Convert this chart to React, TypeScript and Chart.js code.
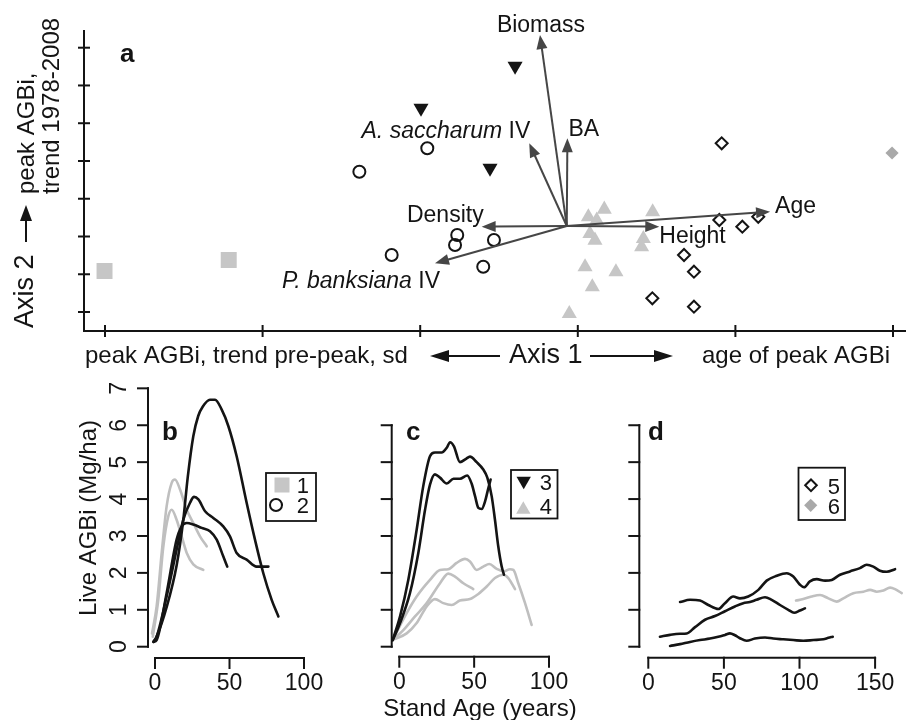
import React, { useEffect, useRef } from "react";
import { Chart, registerables } from "chart.js";

Chart.register(...registerables);

const FONT = '"Liberation Sans", Arial, Helvetica, sans-serif';
const W = 906;
const H = 720;

// ---------- Panel a: ordination scores ----------
const axis1Ticks = [-3, -2, -1, 0, 1, 2];
const axis2Ticks = [-2, -1, 0, 1, 2, 3, 4, 5];

const type1X = [-3.003, -2.215];
const type1Y = [-0.914, -0.622];
const type2X = [-0.955, -1.386, -0.765, -0.779, -0.532, -1.181, -0.6];
const type2Y = [2.336, 1.716, 0.04, -0.225, -0.093, -0.49, -0.8];
const type3X = [-0.995, -0.398, -0.557];
const type3Y = [3.403, 4.515, 1.814];
const type4X = [0.067, 0.168, 0.12, 0.077, 0.109, 0.475, 0.416, 0.405, 0.046, 0.242, 0.092, -0.054];
const type4Y = [0.516, 0.72, 0.429, 0.074, -0.101, 0.649, -0.058, -0.278, -0.808, -0.94, -1.337, -2.044];
const type5X = [0.913, 0.898, 1.044, 1.145, 0.674, 0.737, 0.473, 0.737];
const type5Y = [2.468, 0.437, 0.26, 0.524, -0.49, -0.932, -1.637, -1.859];
const type6X = [1.994];
const type6Y = [2.211];

const vectorNames = ["Biomass", "BA", "A. saccharum IV", "Density", "P. banksiana IV", "Height", "Age"];
const vectorX = [-0.24, -0.066, -0.308, -0.61, -0.906, 0.517, 1.22];
const vectorY = [5.336, 2.601, 2.468, 0.26, -0.71, 0.26, 0.657];
const vectorOriginX = -0.07;
const vectorOriginY = 0.278;

// ---------- Panels b-d: live AGBi vs stand age ----------
const bcAgeTicks = [0, 50, 100];
const dAgeTicks = [0, 50, 100, 150];
const bAgbiTicks = [0, 1, 2, 3, 4, 5, 6, 7];
const cdAgbiTicks = [0, 1, 2, 3, 4, 5, 6];

// panel b, type 2 (black)
const b2aAge = [-1, 1, 8, 14.5, 19, 22, 25.7, 29, 32, 36.9, 40.3, 44.7, 49.2, 54.8, 61.5, 67.1, 72.7, 78.3, 82.8];
const b2aVal = [0.14, 0.27, 1.1, 2.2, 3.44, 4.6, 5.7, 6.25, 6.5, 6.69, 6.69, 6.43, 5.98, 5.16, 3.9, 2.9, 1.99, 1.27, 0.82];
const b2bAge = [-1, 0.5, 7.8, 14.5, 19, 23.5, 26.2, 29.1, 33.6, 39.1, 45.8, 50.3, 54.8, 61.5, 68.2, 76.1];
const b2bVal = [0.13, 0.2, 1.36, 2.63, 3.44, 3.9, 4.06, 3.99, 3.67, 3.49, 3.26, 2.99, 2.54, 2.36, 2.17, 2.17];
const b2cAge = [-1, 1.1, 7.8, 14.5, 17.9, 21.3, 25.7, 31.3, 36.9, 41.4, 45.8, 48.5];
const b2cVal = [0.13, 0.18, 1.45, 2.9, 3.26, 3.35, 3.31, 3.22, 3.13, 2.9, 2.45, 2.17];
// panel b, type 1 (grey)
const b1aAge = [-2, 1.1, 4.5, 7.8, 11.2, 13.4, 16.8, 21.3, 25.7, 30.2, 34.7];
const b1aVal = [0.36, 1.09, 2.54, 3.8, 4.44, 4.53, 4.26, 3.71, 3.35, 2.99, 2.72];
const b1bAge = [-1.5, 2.2, 5.6, 8.9, 11.2, 14.5, 17.9, 21.3, 25.7, 32.4];
const b1bVal = [0.27, 1.27, 2.72, 3.53, 3.71, 3.44, 2.99, 2.54, 2.23, 2.08];

// panel c, type 3 (black)
const c3aAge = [-4.4, 0.5, 6, 11.6, 16, 20.5, 23.8, 28.3, 31.7, 33.9, 36.5, 40.5, 44.6, 47.2, 51.7, 56.1, 58.8, 61.7, 63.9, 66.1, 68.4, 69.9];
const c3aVal = [0.18, 0.82, 1.81, 3.17, 4.35, 5.16, 5.26, 5.26, 5.39, 5.54, 5.43, 5.0, 5.09, 5.15, 5.0, 4.8, 4.58, 4.08, 3.44, 2.72, 2.17, 1.95];
const c3bAge = [-4.4, 0.5, 7.1, 12.7, 17.2, 20.5, 23.8, 27.2, 31.7, 36.2, 40.5, 45.4, 48.3, 50.6, 52.8, 55, 57.3, 59.5, 61];
const c3bVal = [0.18, 0.64, 1.45, 2.54, 3.71, 4.39, 4.67, 4.58, 4.42, 4.55, 4.55, 4.64, 4.42, 4.08, 3.76, 3.73, 3.94, 4.3, 4.53];
// panel c, type 4 (grey)
const c4aAge = [-4.4, 4.9, 11.6, 20.5, 27.2, 32.7, 38.3, 43.9, 47.2, 51.7, 56.1, 60.1, 65.1, 69.5, 73.9, 76.2, 79.5, 84, 88.4];
const c4aVal = [0.18, 0.91, 1.36, 1.81, 2.08, 2.1, 2.27, 2.38, 2.31, 2.08, 2.17, 2.24, 2.11, 2.04, 2.1, 2.08, 1.72, 1.18, 0.59];
const c4bAge = [-4.4, 2.7, 10.5, 18.3, 27.2, 32.7, 37.2, 42.8, 49.4];
const c4bVal = [0.18, 0.45, 0.82, 1.18, 1.72, 1.98, 1.9, 1.72, 1.56];
const c4cAge = [-4.4, 4.9, 11.6, 18.3, 23.8, 29.4, 35, 40.5, 47.2, 52.8, 58.4, 63.9, 69.5, 72.8, 77.3];
const c4cVal = [0.18, 0.36, 0.64, 1.09, 1.29, 1.18, 1.13, 1.25, 1.29, 1.43, 1.63, 1.86, 1.95, 1.86, 1.56];

// panel d, type 5 (black)
const d5aAge = [21, 27.6, 34.2, 39.7, 46.3, 50.7, 56.2, 60.6, 66.1, 72.8, 78.3, 84.9, 91.5, 95.9, 100.3, 103, 106.9, 111.4, 116.9, 121.3, 126.8, 133.4, 140, 144.4, 148.8, 153.2, 157.7, 163.2];
const d5aVal = [1.21, 1.27, 1.25, 1.13, 1.02, 1.18, 1.36, 1.31, 1.36, 1.54, 1.79, 1.92, 1.99, 1.9, 1.68, 1.61, 1.77, 1.83, 1.79, 1.81, 1.95, 2.04, 2.13, 2.22, 2.17, 2.06, 2.03, 2.1];
const d5bAge = [7.7, 14.4, 21, 25.4, 30.9, 37.5, 44.1, 50.7, 57.3, 62.8, 67.2, 71.6, 77.2, 81.6, 87.1, 92.6, 96.4, 100.3, 103.6];
const d5bVal = [0.27, 0.32, 0.35, 0.36, 0.53, 0.73, 0.83, 0.96, 1.09, 1.18, 1.21, 1.27, 1.34, 1.27, 1.13, 1.0, 0.92, 0.98, 1.04];
const d5cAge = [14.4, 21, 27.6, 34.2, 40.8, 46.3, 50.7, 54, 57.3, 60.6, 65, 70.5, 77.2, 82.7, 89.3, 95.9, 102.5, 109.2, 115.8, 119.1, 122];
const d5cVal = [0.02, 0.07, 0.13, 0.18, 0.22, 0.27, 0.32, 0.36, 0.31, 0.23, 0.16, 0.22, 0.25, 0.22, 0.2, 0.18, 0.16, 0.18, 0.2, 0.24, 0.27];
// panel d, type 6 (grey)
const d6aAge = [97.7, 102.5, 108, 113.6, 119.1, 124.6, 129, 135.6, 142.3, 146.7, 151.1, 155.5, 159.9, 163.2, 167.6];
const d6aVal = [1.25, 1.29, 1.36, 1.4, 1.31, 1.22, 1.31, 1.45, 1.49, 1.54, 1.49, 1.52, 1.6, 1.56, 1.45];

// ---------- styling ----------
const INK = "#141414";
const GREY = "#c6c6c6";
const GREY_LINE = "#bfbfbf";
const GREY_DARK = "#a9a9a9";
const VEC = "#464646";

type Geo = { l: number; r: number; t: number; b: number; x0: number; xu: number; y0: number; yu: number };

const geoA: Geo = { l: 84, r: 906, t: 30, b: 331, x0: 577.8, xu: 157.6, y0: 236.5, yu: 37.76 };
const geoB: Geo = { l: 148, r: 330, t: 380, b: 658, x0: 155, xu: 1.49, y0: 646.7, yu: 36.91 };
const geoC: Geo = { l: 391.7, r: 580, t: 380, b: 656.7, x0: 399.3, xu: 1.497, y0: 646.7, yu: 36.91 };
const geoD: Geo = { l: 639.3, r: 906, t: 380, b: 657.7, x0: 648.3, xu: 1.512, y0: 646.7, yu: 36.91 };

function pts(xs: number[], ys: number[]) {
  return xs.map((x, i) => ({ x, y: ys[i] }));
}

function baseOptions(g: Geo) {
  return {
    responsive: false,
    animation: false,
    events: [],
    devicePixelRatio: 1,
    layout: { autoPadding: false, padding: { left: g.l, top: g.t, right: W - g.r, bottom: H - g.b } },
    plugins: { legend: { display: false }, tooltip: { enabled: false }, title: { display: false } },
    scales: {
      x: { type: "linear", display: false, bounds: "data", min: (g.l - g.x0) / g.xu, max: (g.r - g.x0) / g.xu },
      y: { type: "linear", display: false, bounds: "data", min: (g.y0 - g.b) / g.yu, max: (g.y0 - g.t) / g.yu },
    },
  };
}

function seg(ctx: CanvasRenderingContext2D, x1: number, y1: number, x2: number, y2: number) {
  ctx.beginPath();
  ctx.moveTo(x1, y1);
  ctx.lineTo(x2, y2);
  ctx.stroke();
}

function arrow(ctx: CanvasRenderingContext2D, x1: number, y1: number, x2: number, y2: number, color: string, lw: number, len: number, half: number) {
  const a = Math.atan2(y2 - y1, x2 - x1);
  const bx = x2 - Math.cos(a) * len;
  const by = y2 - Math.sin(a) * len;
  ctx.strokeStyle = color;
  ctx.fillStyle = color;
  ctx.lineWidth = lw;
  seg(ctx, x1, y1, bx + Math.cos(a) * 2, by + Math.sin(a) * 2);
  ctx.beginPath();
  ctx.moveTo(x2, y2);
  ctx.lineTo(bx + Math.sin(a) * half, by - Math.cos(a) * half);
  ctx.lineTo(bx - Math.sin(a) * half, by + Math.cos(a) * half);
  ctx.closePath();
  ctx.fill();
}

function mixedLabel(ctx: CanvasRenderingContext2D, name: string, x: number, y: number, align: "left" | "right" | "center", size: number) {
  const reg = `${size}px ${FONT}`;
  const ital = `italic ${size}px ${FONT}`;
  const m = name.match(/^(.*)( IV)$/);
  ctx.textAlign = "left";
  if (!m) {
    ctx.font = reg;
    const w = ctx.measureText(name).width;
    const sx = align === "left" ? x : align === "right" ? x - w : x - w / 2;
    ctx.fillText(name, sx, y);
    return;
  }
  ctx.font = ital;
  const w1 = ctx.measureText(m[1]).width;
  ctx.font = reg;
  const w2 = ctx.measureText(m[2]).width;
  const total = w1 + w2;
  const sx = align === "left" ? x : align === "right" ? x - total : x - total / 2;
  ctx.font = ital;
  ctx.fillText(m[1], sx, y);
  ctx.font = reg;
  ctx.fillText(m[2], sx + w1, y);
}

function rotText(ctx: CanvasRenderingContext2D, text: string, x: number, y: number, font: string, align: CanvasTextAlign) {
  ctx.save();
  ctx.translate(x, y);
  ctx.rotate(-Math.PI / 2);
  ctx.font = font;
  ctx.textAlign = align;
  ctx.textBaseline = "alphabetic";
  ctx.fillText(text, 0, 0);
  ctx.restore();
}

const panelAPlugin = {
  id: "panelA",
  afterDatasetsDraw(chart: any) {
    const { ctx, chartArea: ca, scales } = chart;
    const xs = scales.x;
    const ys = scales.y;
    ctx.save();
    ctx.lineCap = "butt";
    // L-shaped axes with crossing ticks
    ctx.strokeStyle = INK;
    ctx.lineWidth = 2;
    ctx.beginPath();
    ctx.moveTo(ca.left, ca.top);
    ctx.lineTo(ca.left, ca.bottom);
    ctx.lineTo(ca.right, ca.bottom);
    ctx.stroke();
    axis1Ticks.forEach((v) => {
      const px = xs.getPixelForValue(v);
      seg(ctx, px, ca.bottom - 6, px, ca.bottom + 6);
    });
    axis2Ticks.forEach((v) => {
      const py = ys.getPixelForValue(v);
      seg(ctx, ca.left - 6, py, ca.left + 6, py);
    });

    // vectors
    const ox = xs.getPixelForValue(vectorOriginX);
    const oy = ys.getPixelForValue(vectorOriginY);
    const tips = vectorNames.map((_, i) => [xs.getPixelForValue(vectorX[i]), ys.getPixelForValue(vectorY[i])]);
    tips.forEach(([tx, ty]) => arrow(ctx, ox, oy, tx, ty, VEC, 2, 14, 5.5));

    ctx.fillStyle = INK;
    ctx.textBaseline = "alphabetic";
    const fs = 23;
    mixedLabel(ctx, vectorNames[0], tips[0][0] + 1, tips[0][1] - 3, "center", fs);
    mixedLabel(ctx, vectorNames[1], tips[1][0] + 1, tips[1][1] - 2, "left", fs);
    mixedLabel(ctx, vectorNames[2], tips[2][0] + 1, tips[2][1] - 5, "right", fs);
    mixedLabel(ctx, vectorNames[3], tips[3][0] + 2, tips[3][1] - 5, "right", fs);
    mixedLabel(ctx, vectorNames[4], tips[4][0] + 5, tips[4][1] + 25, "right", fs);
    mixedLabel(ctx, vectorNames[5], tips[5][0], tips[5][1] + 16.5, "left", fs);
    mixedLabel(ctx, vectorNames[6], tips[6][0] + 5, tips[6][1] + 1.5, "left", fs);

    // panel letter
    ctx.font = `bold 26px ${FONT}`;
    ctx.textAlign = "left";
    ctx.fillText("a", 120, 62);

    // axis 1 title
    ctx.font = `24px ${FONT}`;
    ctx.fillText("peak AGBi, trend pre-peak, sd", 85, 363);
    ctx.fillText("age of peak AGBi", 702, 363);
    ctx.font = `27px ${FONT}`;
    ctx.fillText("Axis 1", 509, 363);
    arrow(ctx, 500, 356, 430, 356, INK, 2, 19, 6);
    arrow(ctx, 590, 356, 673, 356, INK, 2, 19, 6);

    // axis 2 title (rotated)
    ctx.fillStyle = INK;
    rotText(ctx, "Axis 2", 33, 328, `27px ${FONT}`, "left");
    arrow(ctx, 26, 242, 26, 205, INK, 2, 16, 6);
    rotText(ctx, "peak AGBi,", 33.5, 194, `24px ${FONT}`, "left");
    rotText(ctx, "trend 1978-2008", 58.5, 194, `24px ${FONT}`, "left");
    ctx.restore();
  },
};

type LegendItem = { shape: string; cx: number; cy: number; text: string; tx: number; ty: number };
type LowerCfg = {
  id: string;
  xTicks: number[];
  yTicks: number[];
  yLabels: boolean;
  letter: string;
  letterX: number;
  box: number[];
  items: LegendItem[];
  xTitle?: boolean;
  yTitle?: boolean;
};

function shape(ctx: CanvasRenderingContext2D, kind: string, cx: number, cy: number) {
  ctx.save();
  ctx.lineWidth = 2;
  ctx.strokeStyle = INK;
  ctx.beginPath();
  if (kind === "square") {
    ctx.fillStyle = GREY;
    ctx.fillRect(cx - 7.5, cy - 7.5, 15, 15);
  } else if (kind === "circle") {
    ctx.arc(cx, cy, 6, 0, Math.PI * 2);
    ctx.stroke();
  } else if (kind === "triDown" || kind === "triUp") {
    const r = 8.3;
    const s = kind === "triDown" ? -1 : 1;
    ctx.fillStyle = kind === "triDown" ? INK : GREY;
    ctx.moveTo(cx, cy - s * r);
    ctx.lineTo(cx + r * 0.866, cy + s * r * 0.5);
    ctx.lineTo(cx - r * 0.866, cy + s * r * 0.5);
    ctx.closePath();
    ctx.fill();
  } else if (kind === "diamond" || kind === "diamondFill") {
    const r = kind === "diamond" ? 5.8 : 6.6;
    ctx.moveTo(cx - r, cy);
    ctx.lineTo(cx, cy - r);
    ctx.lineTo(cx + r, cy);
    ctx.lineTo(cx, cy + r);
    ctx.closePath();
    if (kind === "diamond") ctx.stroke();
    else {
      ctx.fillStyle = GREY_DARK;
      ctx.fill();
    }
  }
  ctx.restore();
}

function lowerPlugin(cfg: LowerCfg) {
  return {
    id: cfg.id,
    afterDatasetsDraw(chart: any) {
      const { ctx, chartArea: ca, scales } = chart;
      const xs = scales.x;
      const ys = scales.y;
      ctx.save();
      ctx.strokeStyle = INK;
      ctx.fillStyle = INK;
      ctx.lineWidth = 2;
      ctx.lineCap = "square";
      // y axis
      const yTop = ys.getPixelForValue(cfg.yTicks[cfg.yTicks.length - 1]);
      const yBot = ys.getPixelForValue(cfg.yTicks[0]);
      seg(ctx, ca.left, yTop, ca.left, yBot);
      cfg.yTicks.forEach((v) => {
        const py = ys.getPixelForValue(v);
        seg(ctx, ca.left - 10, py, ca.left, py);
        if (cfg.yLabels) rotText(ctx, String(v), ca.left - 22, py, `23px ${FONT}`, "center");
      });
      // x axis
      const xL = xs.getPixelForValue(cfg.xTicks[0]);
      const xR = xs.getPixelForValue(cfg.xTicks[cfg.xTicks.length - 1]);
      seg(ctx, xL, ca.bottom, xR, ca.bottom);
      ctx.font = `23px ${FONT}`;
      ctx.textAlign = "center";
      ctx.textBaseline = "alphabetic";
      cfg.xTicks.forEach((v) => {
        const px = xs.getPixelForValue(v);
        seg(ctx, px, ca.bottom, px, ca.bottom + 10);
        ctx.fillText(String(v), px, ca.bottom + 32);
      });
      // panel letter
      ctx.font = `bold 26px ${FONT}`;
      ctx.textAlign = "left";
      ctx.fillText(cfg.letter, cfg.letterX, 440);
      // legend
      ctx.lineWidth = 1.8;
      ctx.strokeRect(cfg.box[0], cfg.box[1], cfg.box[2], cfg.box[3]);
      cfg.items.forEach((it) => {
        shape(ctx, it.shape, it.cx, it.cy);
        ctx.fillStyle = INK;
        ctx.font = `22px ${FONT}`;
        ctx.textAlign = "right";
        ctx.fillText(it.text, it.tx, it.ty);
      });
      if (cfg.yTitle) rotText(ctx, "Live AGBi (Mg/ha)", 96, 518, `24px ${FONT}`, "center");
      if (cfg.xTitle) {
        ctx.font = `24px ${FONT}`;
        ctx.textAlign = "center";
        ctx.fillText("Stand Age (years)", 480, 716);
      }
      ctx.restore();
    },
  };
}

function curve(xs: number[], ys: number[], color: string) {
  return {
    data: pts(xs, ys),
    showLine: true,
    borderColor: color,
    borderWidth: 2.6,
    borderCapStyle: "round",
    borderJoinStyle: "round",
    pointRadius: 0,
    pointHoverRadius: 0,
    cubicInterpolationMode: "monotone",
    fill: false,
    clip: false,
  };
}

function scatterSet(xs: number[], ys: number[], style: string, radius: number, bg: string, border: string, bw: number, rot = 0) {
  return {
    data: pts(xs, ys),
    showLine: false,
    pointStyle: style,
    pointRadius: radius,
    pointHoverRadius: radius,
    pointRotation: rot,
    pointBackgroundColor: bg,
    pointBorderColor: border,
    pointBorderWidth: bw,
    clip: false,
  };
}

export default function App() {
  const refA = useRef<HTMLCanvasElement>(null);
  const refB = useRef<HTMLCanvasElement>(null);
  const refC = useRef<HTMLCanvasElement>(null);
  const refD = useRef<HTMLCanvasElement>(null);

  useEffect(() => {
    const charts: Chart[] = [];
    charts.push(
      new Chart(refA.current as HTMLCanvasElement, {
        type: "scatter",
        data: {
          datasets: [
            scatterSet(type3X, type3Y, "triangle", 8.7, INK, INK, 0, 180),
            scatterSet(type2X, type2Y, "circle", 6, "rgba(0,0,0,0)", INK, 2),
            scatterSet(type5X, type5Y, "rectRot", 6, "rgba(0,0,0,0)", INK, 2),
            scatterSet(type1X, type1Y, "rect", 11.3, GREY, GREY, 0),
            scatterSet(type4X, type4Y, "triangle", 8.7, GREY, GREY, 0),
            scatterSet(type6X, type6Y, "rectRot", 6.6, GREY_DARK, GREY_DARK, 0),
          ] as any,
        },
        options: baseOptions(geoA) as any,
        plugins: [panelAPlugin],
      })
    );
    charts.push(
      new Chart(refB.current as HTMLCanvasElement, {
        type: "scatter",
        data: {
          datasets: [
            curve(b2aAge, b2aVal, INK),
            curve(b2bAge, b2bVal, INK),
            curve(b2cAge, b2cVal, INK),
            curve(b1aAge, b1aVal, GREY_LINE),
            curve(b1bAge, b1bVal, GREY_LINE),
          ] as any,
        },
        options: baseOptions(geoB) as any,
        plugins: [
          lowerPlugin({
            id: "panelB",
            xTicks: bcAgeTicks,
            yTicks: bAgbiTicks,
            yLabels: true,
            letter: "b",
            letterX: 162,
            box: [266, 473, 50, 48],
            items: [
              { shape: "square", cx: 282, cy: 485, text: "1", tx: 309, ty: 493 },
              { shape: "circle", cx: 276, cy: 505, text: "2", tx: 309, ty: 513 },
            ],
            yTitle: true,
          }),
        ],
      })
    );
    charts.push(
      new Chart(refC.current as HTMLCanvasElement, {
        type: "scatter",
        data: {
          datasets: [
            curve(c3aAge, c3aVal, INK),
            curve(c3bAge, c3bVal, INK),
            curve(c4aAge, c4aVal, GREY_LINE),
            curve(c4bAge, c4bVal, GREY_LINE),
            curve(c4cAge, c4cVal, GREY_LINE),
          ] as any,
        },
        options: baseOptions(geoC) as any,
        plugins: [
          lowerPlugin({
            id: "panelC",
            xTicks: bcAgeTicks,
            yTicks: cdAgbiTicks,
            yLabels: false,
            letter: "c",
            letterX: 406,
            box: [511, 470, 46.5, 48.5],
            items: [
              { shape: "triDown", cx: 523.7, cy: 481, text: "3", tx: 552, ty: 490 },
              { shape: "triUp", cx: 523.3, cy: 509.5, text: "4", tx: 552, ty: 514 },
            ],
            xTitle: true,
          }),
        ],
      })
    );
    charts.push(
      new Chart(refD.current as HTMLCanvasElement, {
        type: "scatter",
        data: {
          datasets: [
            curve(d5aAge, d5aVal, INK),
            curve(d5bAge, d5bVal, INK),
            curve(d5cAge, d5cVal, INK),
            curve(d6aAge, d6aVal, GREY_LINE),
          ] as any,
        },
        options: baseOptions(geoD) as any,
        plugins: [
          lowerPlugin({
            id: "panelD",
            xTicks: dAgeTicks,
            yTicks: cdAgbiTicks,
            yLabels: false,
            letter: "d",
            letterX: 648,
            box: [798.5, 467.7, 46.5, 52.3],
            items: [
              { shape: "diamond", cx: 811, cy: 485.3, text: "5", tx: 840, ty: 494 },
              { shape: "diamondFill", cx: 810.7, cy: 505.3, text: "6", tx: 840, ty: 514 },
            ],
          }),
        ],
      })
    );
    return () => charts.forEach((c) => c.destroy());
  }, []);

  const cs: React.CSSProperties = { position: "absolute", left: 0, top: 0, width: W, height: H };
  return (
    <div style={{ position: "fixed", left: 0, top: 0, width: W, height: H, background: "#ffffff", overflow: "hidden" }}>
      <canvas ref={refA} width={W} height={H} style={cs} />
      <canvas ref={refB} width={W} height={H} style={cs} />
      <canvas ref={refC} width={W} height={H} style={cs} />
      <canvas ref={refD} width={W} height={H} style={cs} />
    </div>
  );
}
